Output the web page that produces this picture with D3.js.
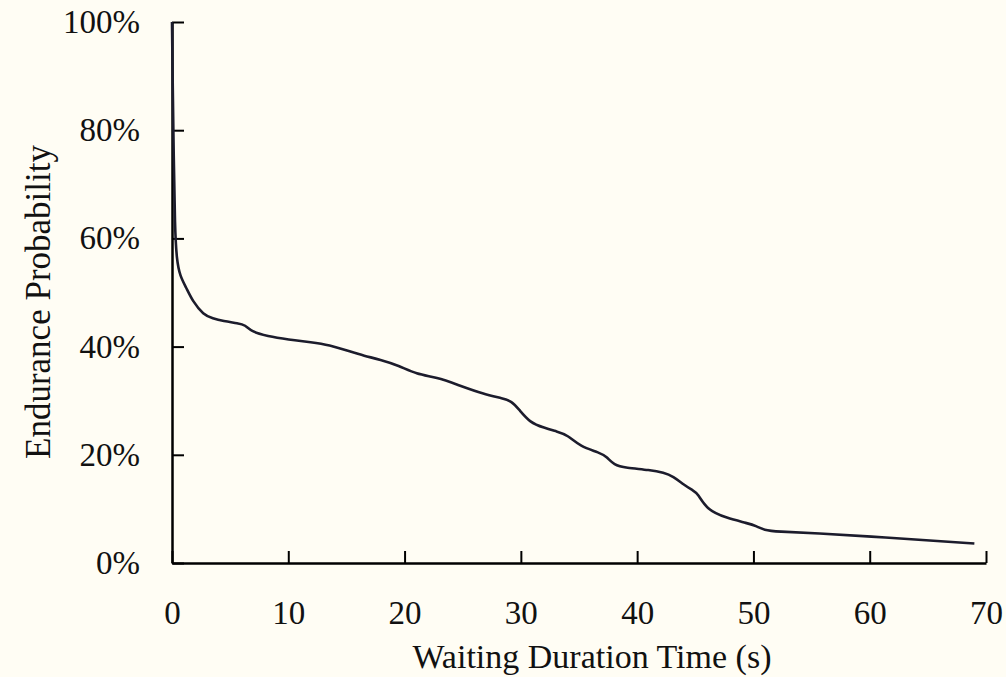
<!DOCTYPE html>
<html>
<head>
<meta charset="utf-8">
<script src="https://cdn.jsdelivr.net/npm/d3@7"></script>
<style>
  body { margin: 0; background: #fffdf4; }
  svg { display: block; }
  text { font-family: "Liberation Serif", "DejaVu Serif", serif; fill: #111; }
</style>
</head>
<body>
<svg id="chart" width="1006" height="677"></svg>
<script>
// valeurs (temps en s, probabilité en %)
const times = [0, 0.05, 0.15, 0.25, 0.4, 0.7, 1.2, 1.8, 2.7, 3.5, 4.4, 5.7, 6.3, 6.8, 8.2, 10, 12, 13.5,
  15.3, 16.5, 17.9, 19.5, 21, 22.8, 24.5, 26.8, 28.5, 29.2, 29.8, 30.8, 32, 33.1, 34, 35.1, 36.8, 37.4,
  38, 39, 41.1, 42.3, 43.1, 44, 44.8, 45.2, 46, 47.7, 49.5, 50.3, 50.9, 52, 55.5, 60.1, 65, 69];
const probs = [100, 90, 75, 62, 56, 53, 51, 48.3, 45.9, 45.2, 44.7, 44.3, 44.0, 42.8, 41.9, 41.3, 40.8, 40.3,
  39.1, 38.3, 37.6, 36.5, 34.9, 34.3, 33.0, 31.2, 30.4, 29.9, 28.5, 25.9, 25.0, 24.3, 23.7, 21.5, 20.4, 19.6,
  18.1, 17.6, 17.2, 16.7, 16.0, 14.5, 13.4, 12.9, 9.8, 8.3, 7.35, 6.8, 6.1, 5.8, 5.5, 4.9, 4.2, 3.6];

const xTicks = [0, 10, 20, 30, 40, 50, 60, 70];
const yTicks = [0, 20, 40, 60, 80, 100];

const svg = d3.select("#chart");

const x = d3.scaleLinear().domain([0, 70]).range([172, 986]);
const y = d3.scaleLinear().domain([0, 100]).range([563, 22]);

// axe x, graduations vers l'intérieur
const xAxis = svg.append("g")
  .attr("transform", "translate(0,563)")
  .call(d3.axisBottom(x).tickValues(xTicks).tickSizeInner(-12).tickSizeOuter(0).tickPadding(38));
xAxis.select(".domain").attr("stroke", "#000").attr("stroke-width", 2.5);
xAxis.selectAll(".tick line").attr("stroke", "#000").attr("stroke-width", 2);
xAxis.selectAll(".tick text").attr("font-size", 33).attr("font-family", "Liberation Serif").attr("fill", "#111");

// axe y
const yAxis = svg.append("g")
  .attr("transform", "translate(172,0)")
  .call(d3.axisLeft(y).tickValues(yTicks).tickFormat(d => d + "%").tickSizeInner(-12).tickSizeOuter(0).tickPadding(32));
yAxis.select(".domain").attr("stroke", "#000").attr("stroke-width", 2.5);
yAxis.selectAll(".tick line").attr("stroke", "#000").attr("stroke-width", 2);
yAxis.selectAll(".tick text").attr("font-size", 33).attr("font-family", "Liberation Serif").attr("fill", "#111");

// courbe lissée
const line = d3.line()
  .x((d, i) => x(times[i]))
  .y(d => y(d))
  .curve(d3.curveBasis);

svg.append("path")
  .datum(probs)
  .attr("fill", "none")
  .attr("stroke", "#1c1c2c")
  .attr("stroke-width", 2.6)
  .attr("d", line);

// titres des axes
svg.append("text")
  .attr("x", 592)
  .attr("y", 668)
  .attr("text-anchor", "middle")
  .attr("font-size", 34)
  .text("Waiting Duration Time (s)");

svg.append("text")
  .attr("transform", "translate(50,302) rotate(-90)")
  .attr("text-anchor", "middle")
  .attr("font-size", 35)
  .text("Endurance Probability");
</script>
</body>
</html>
